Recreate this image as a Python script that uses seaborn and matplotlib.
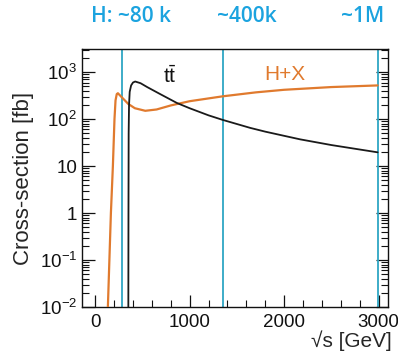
import numpy as np
import pandas as pd
import seaborn as sns
import matplotlib.pyplot as plt
from matplotlib.ticker import LogLocator, MultipleLocator, FixedLocator, NullFormatter

# ---- data ----
hx_sqrts = [128, 134, 150, 166, 187, 204, 215, 228, 240, 255, 282, 350, 420, 530,
            650, 800, 1000, 1350, 1700, 2000, 2500, 2990]
hx_xsec = [0.004, 0.01, 0.1, 1, 10, 100, 250, 340, 355, 330, 290, 210, 170, 150,
           160, 195, 240, 305, 370, 420, 480, 520]

tt_sqrts = [350, 352, 354, 358, 365, 380, 400, 423, 480, 550, 688, 865, 1000,
            1200, 1350, 1640, 1800, 2000, 2170, 2500, 2990]
tt_xsec = [0.001, 1, 50, 200, 380, 520, 600, 630, 580, 480, 340, 220, 170,
           120, 96, 65, 54, 44, 37, 28, 19.6]

stage_sqrts = [282, 1350, 2990]
stage_labels = ["H: ~80 k", "~400k", "~1M"]
stage_label_x = [131, 247, 363]  # pixel centres of labels above the plot

yticks = [1e-2, 1e-1, 1, 10, 1e2, 1e3]
yticklabels = ["10$^{-2}$", "10$^{-1}$", "1", "10", "10$^{2}$", "10$^{3}$"]
xticks = [0, 1000, 2000, 3000]

df_hx = pd.DataFrame({"sqrts": hx_sqrts, "xsec": hx_xsec})
df_tt = pd.DataFrame({"sqrts": tt_sqrts, "xsec": tt_xsec})

sns.set_theme(style="ticks")
plt.rcParams['font.family'] = ['Liberation Sans', 'DejaVu Sans']
plt.rcParams['mathtext.fontset'] = 'custom'
plt.rcParams['mathtext.rm'] = 'Liberation Sans'
plt.rcParams['mathtext.it'] = 'Liberation Sans'
plt.rcParams['axes.unicode_minus'] = False

W, H = 398, 361
fig = plt.figure(figsize=(W / 100, H / 100), dpi=100)
ax = fig.add_axes([82 / W, 1 - 307 / H, (388 - 82) / W, (307 - 49) / H])

orange = "#E07A2E"
cyan_line = "#2EA6C4"
cyan_text = "#1BA3DF"

for xv in stage_sqrts:
    ax.axvline(xv, color=cyan_line, lw=1.3, zorder=1)

sns.lineplot(data=df_hx, x="sqrts", y="xsec", ax=ax, color=orange, lw=1.6, zorder=3)
sns.lineplot(data=df_tt, x="sqrts", y="xsec", ax=ax, color="#1a1a1a", lw=1.3, zorder=3)

ax.set_yscale("log")
ax.set_xlim(-140, 3100)
ax.set_ylim(1e-2, 3.1e3)

ax.yaxis.set_major_locator(FixedLocator(yticks))
ax.set_yticklabels(yticklabels)
ax.yaxis.set_minor_locator(LogLocator(base=10, subs=np.arange(2, 10)))
ax.yaxis.set_minor_formatter(NullFormatter())
ax.xaxis.set_major_locator(FixedLocator(xticks))
ax.xaxis.set_minor_locator(MultipleLocator(200))

ax.tick_params(which="both", direction="in", left=True, right=True, top=False,
               bottom=True, labelsize=13.5, colors="#111111")
ax.tick_params(which="major", length=9, width=0.9)
ax.tick_params(which="minor", length=5, width=0.8)
ax.tick_params(axis="x", pad=5)
for s in ax.spines.values():
    s.set_linewidth(1.0)
    s.set_color("#111111")

ax.set_xlabel("")
ax.set_ylabel("Cross-section [fb]", fontsize=16, labelpad=4)
fig.text(392 / W, 1 - 341 / H, "√s [GeV]", ha="right", va="center", fontsize=15)

ax.text(794, 830, r"$\mathrm{t\bar{t}}$", ha="center", va="center", fontsize=15, color="#111111")
ax.text(2010, 880, "H+X", ha="center", va="center", fontsize=15, color=orange)

for lx, lab in zip(stage_label_x, stage_labels):
    fig.text(lx / W, 1 - 17 / H, lab, ha="center", va="center", fontsize=15,
             color=cyan_text, weight="semibold", family=["Open Sans", "DejaVu Sans"])

fig.savefig("out.png", dpi=100)
